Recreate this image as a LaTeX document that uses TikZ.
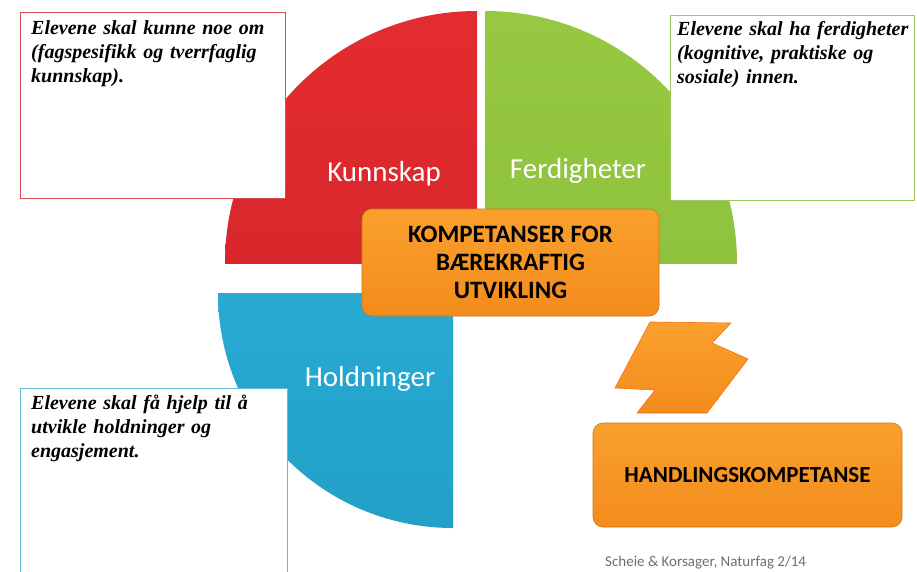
\documentclass[tikz,border=0pt]{standalone}
\usepackage{fontspec}
\setmainfont{Carlito}
\newfontfamily\boxserif{Liberation Serif}
\definecolor{kred}{RGB}{204,34,40}
\definecolor{kredtop}{RGB}{228,44,48}
\definecolor{kgreen}{RGB}{136,188,56}
\definecolor{kgreentop}{RGB}{150,200,66}
\definecolor{kblue}{RGB}{34,160,200}
\definecolor{kbluetop}{RGB}{46,180,222}
\definecolor{korange}{RGB}{243,140,28}
\definecolor{korangetop}{RGB}{250,160,44}
\definecolor{kcap}{RGB}{110,110,110}
\tikzset{
  lbl/.style={text=white, font=\fontsize{29}{32}\selectfont, inner sep=0pt},
  tframe/.style={draw=#1, line width=1pt, fill=white, inner sep=0pt, anchor=north west},
  ttext/.style={anchor=north west, inner sep=0pt, align=left, text width=262pt,
    font=\boxserif\bfseries\itshape\fontsize{20}{24}\selectfont},
  obox/.style={rounded corners=10pt, top color=korangetop, bottom color=korange,
    draw=korange!85!black, line width=0.6pt, inner sep=0pt, align=center,
    font=\bfseries\fontsize{25}{28}\selectfont}
}
\begin{document}
\begin{tikzpicture}[x=1pt,y=-1pt]
\useasboundingbox[fill=white] (0,0) rectangle (917,572);
% quarter pies
\begin{scope}
  \clip (225,11) rectangle (477,263);
  \shade[top color=kredtop, bottom color=kred] (477,263) circle[radius=252pt];
\end{scope}
\begin{scope}
  \clip (485,11) rectangle (737,263);
  \shade[top color=kgreentop, bottom color=kgreen] (485,263) circle[radius=252pt];
\end{scope}
\begin{scope}
  \clip (218,293) rectangle (453,529);
  \shade[top color=kbluetop, bottom color=kblue] (453,293) circle[radius=235pt];
\end{scope}
% text frames
\node[tframe=kred!80, minimum width=265pt, minimum height=186pt] (fk) at (20,12) {};
\node[tframe=kgreen!80, minimum width=244pt, minimum height=185pt] (ff) at (670,15) {};
\node[tframe=kblue!70, minimum width=267pt, minimum height=190pt] (fh) at (20,388) {};
\node[ttext] (tk) at (31,20) {Elevene skal kunne noe om\\(fagspesifikk og tverrfaglig\\kunnskap).};
\node[ttext, text width=238pt] (tf) at (677,21) {Elevene skal ha ferdigheter\\(kognitive, praktiske og\\sosiale) innen.};
\node[ttext] (th) at (31,395) {Elevene skal få hjelp til å\\utvikle holdninger og\\engasjement.};
% labels
\node[lbl] (kun) at (384,174) {Kunnskap};
\node[lbl] (fer) at (578,171) {Ferdigheter};
\node[lbl] (hol) at (370,379) {Holdninger};
% central box
\node[obox, minimum width=297pt, minimum height=107pt] (core) at (510.5,262.5)
  {KOMPETANSER FOR\\BÆREKRAFTIG\\UTVIKLING};
% arrows
\shade[top color=korangetop, bottom color=korange, draw=korange!80!red, line width=0.6pt, line join=miter]
  (650,322) -- (731,323) -- (712,343) -- (748,359) -- (707,413) -- (637,413)
  -- (655,390) -- (615,388) -- cycle;
% bottom box
\node[obox, minimum width=309pt, minimum height=104pt, font=\bfseries\fontsize{23}{26}\selectfont] (hk) at (747.5,475) {HANDLINGSKOMPETANSE};
% caption
\node[anchor=west, inner sep=0pt, text=kcap, font=\fontsize{15}{17}\selectfont] (src) at (605,563) {Scheie \& Korsager, Naturfag 2/14};
\end{tikzpicture}
\end{document}
